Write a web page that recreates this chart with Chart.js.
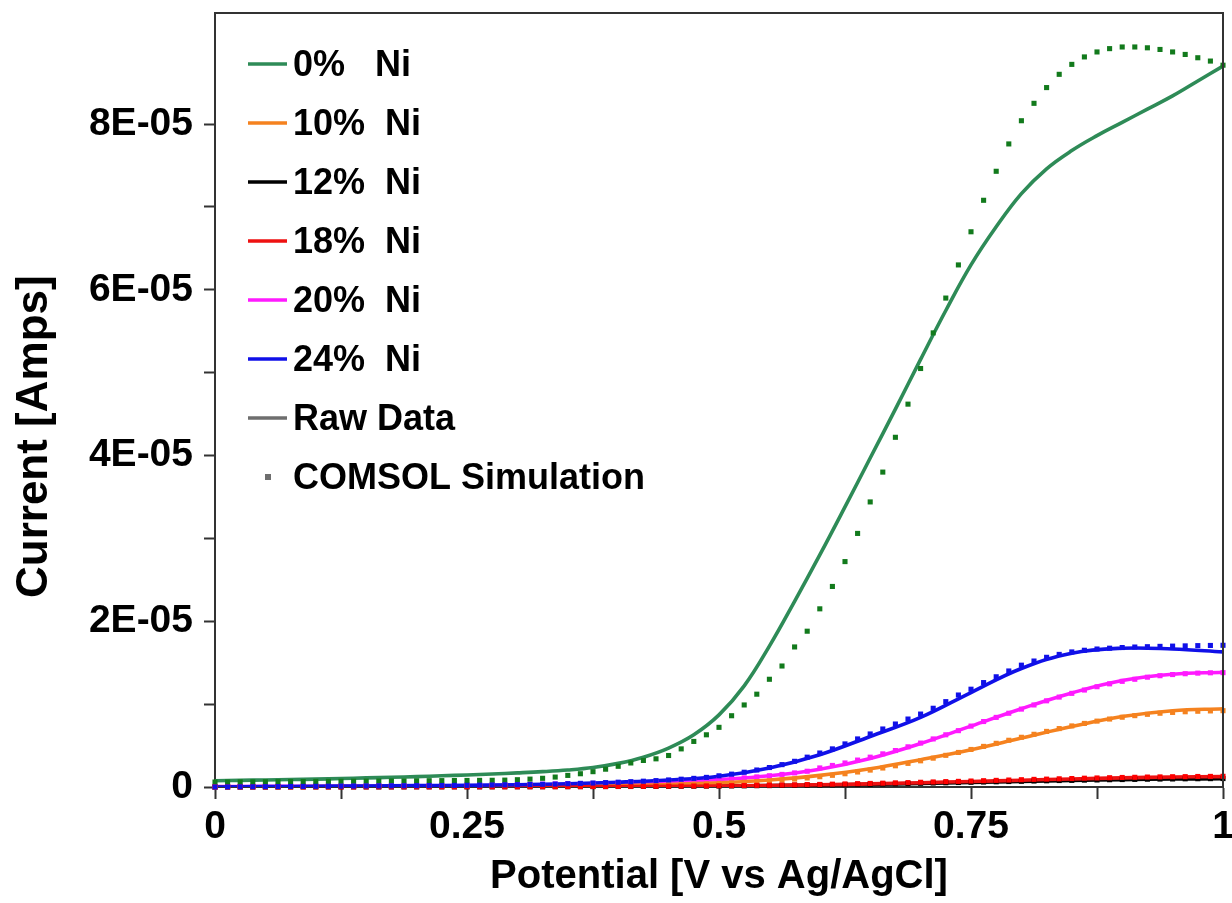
<!DOCTYPE html>
<html>
<head>
<meta charset="utf-8">
<script src="https://cdn.jsdelivr.net/npm/chart.js@4.4.1/dist/chart.umd.min.js"></script>
<style>
  html, body { margin: 0; padding: 0; background: #fff; }
  #wrap { width: 1232px; height: 903px; position: relative; }
</style>
</head>
<body>
<div id="wrap"><canvas id="ivChart"></canvas></div>
<script>
// current values are in units of 1E-05 A

const seriesLabels = ['0%   Ni', '10%  Ni', '12%  Ni', '18%  Ni', '20%  Ni', '24%  Ni'];

const potentialTicks = [0, 0.25, 0.5, 0.75, 1];
const potentialTickLabels = ['0', '0.25', '0.5', '0.75', '1'];
const currentTicks = [0, 2, 4, 6, 8];
const currentTickLabels = ['0', '2E-05', '4E-05', '6E-05', '8E-05'];

// raw data, measured curves
const raw0Potential = [0, 0.025, 0.05, 0.075, 0.1, 0.125, 0.15, 0.175, 0.2, 0.225,
    0.25, 0.275, 0.3, 0.325, 0.35, 0.375, 0.4, 0.425, 0.45, 0.475,
    0.5, 0.525, 0.55, 0.575, 0.6, 0.625, 0.65, 0.675, 0.7, 0.725,
    0.75, 0.775, 0.8, 0.825, 0.85, 0.875, 0.9, 0.925, 0.95, 0.975, 1];
const raw0 = [0.076, 0.08, 0.085, 0.09, 0.095, 0.102, 0.11, 0.117, 0.125, 0.135,
    0.145, 0.157, 0.17, 0.185, 0.205, 0.235, 0.285, 0.36, 0.47, 0.63,
    0.87, 1.22, 1.7, 2.24, 2.8, 3.38, 3.97, 4.56, 5.16, 5.75,
    6.3, 6.76, 7.16, 7.46, 7.68, 7.86, 8.02, 8.18, 8.34, 8.52, 8.7];

const rawPotential = [0, 0.05, 0.1, 0.15, 0.2, 0.25, 0.3, 0.35, 0.4, 0.45, 0.5,
    0.55, 0.6, 0.65, 0.7, 0.75, 0.8, 0.85, 0.9, 0.95, 1];
const raw10 = [0, 0.002, 0.004, 0.006, 0.008, 0.01, 0.012, 0.015, 0.02, 0.03, 0.05,
    0.085, 0.14, 0.22, 0.33, 0.45, 0.59, 0.73, 0.85, 0.92, 0.945];
const raw12 = [0, 0, 0.001, 0.001, 0.002, 0.002, 0.003, 0.004, 0.006, 0.008, 0.011,
    0.016, 0.023, 0.032, 0.043, 0.055, 0.067, 0.079, 0.089, 0.096, 0.1];
const raw18 = [0, 0, 0, 0.001, 0.001, 0.002, 0.002, 0.003, 0.005, 0.008, 0.012,
    0.018, 0.027, 0.038, 0.052, 0.067, 0.082, 0.097, 0.11, 0.12, 0.125];
const raw20 = [0.005, 0.007, 0.009, 0.011, 0.013, 0.015, 0.02, 0.03, 0.045, 0.06, 0.09,
    0.135, 0.215, 0.345, 0.525, 0.735, 0.945, 1.135, 1.285, 1.36, 1.385];
const raw24 = [0, 0.004, 0.008, 0.012, 0.016, 0.02, 0.028, 0.04, 0.058, 0.085, 0.13,
    0.23, 0.39, 0.61, 0.84, 1.14, 1.43, 1.615, 1.675, 1.665, 1.63];

// COMSOL simulation points
const simPotential = [0, 0.0125, 0.025, 0.0375, 0.05, 0.0625, 0.075, 0.0875, 0.1, 0.1125,
    0.125, 0.1375, 0.15, 0.1625, 0.175, 0.1875, 0.2, 0.2125, 0.225, 0.2375,
    0.25, 0.2625, 0.275, 0.2875, 0.3, 0.3125, 0.325, 0.3375, 0.35, 0.3625,
    0.375, 0.3875, 0.4, 0.4125, 0.425, 0.4375, 0.45, 0.4625, 0.475, 0.4875,
    0.5, 0.5125, 0.525, 0.5375, 0.55, 0.5625, 0.575, 0.5875, 0.6, 0.6125,
    0.625, 0.6375, 0.65, 0.6625, 0.675, 0.6875, 0.7, 0.7125, 0.725, 0.7375,
    0.75, 0.7625, 0.775, 0.7875, 0.8, 0.8125, 0.825, 0.8375, 0.85, 0.8625,
    0.875, 0.8875, 0.9, 0.9125, 0.925, 0.9375, 0.95, 0.9625, 0.975, 0.9875, 1];
const sim0 = [0.06, 0.06, 0.061, 0.062, 0.063, 0.064, 0.065, 0.066, 0.067, 0.068,
    0.069, 0.07, 0.071, 0.072, 0.073, 0.074, 0.075, 0.076, 0.077, 0.078,
    0.079, 0.08, 0.081, 0.083, 0.088, 0.095, 0.105, 0.12, 0.14, 0.16,
    0.185, 0.215, 0.25, 0.29, 0.32, 0.34, 0.38, 0.46, 0.55, 0.63,
    0.72, 0.86, 0.99, 1.12, 1.3, 1.46, 1.69, 1.88, 2.15, 2.42,
    2.72, 3.06, 3.44, 3.8, 4.22, 4.62, 5.05, 5.48, 5.9, 6.3,
    6.7, 7.08, 7.43, 7.76, 8.04, 8.25, 8.44, 8.6, 8.72, 8.81,
    8.87, 8.91, 8.93, 8.93, 8.92, 8.9, 8.87, 8.84, 8.8, 8.76, 8.71];
const sim10 = [0, 0.001, 0.001, 0.002, 0.002, 0.003, 0.003, 0.004, 0.004, 0.005,
    0.005, 0.006, 0.006, 0.007, 0.007, 0.008, 0.008, 0.009, 0.009, 0.01,
    0.01, 0.011, 0.011, 0.012, 0.012, 0.013, 0.014, 0.014, 0.015, 0.016,
    0.017, 0.018, 0.019, 0.021, 0.023, 0.025, 0.028, 0.031, 0.035, 0.039,
    0.044, 0.05, 0.057, 0.065, 0.074, 0.084, 0.096, 0.109, 0.124, 0.141,
    0.16, 0.181, 0.204, 0.229, 0.256, 0.285, 0.316, 0.348, 0.382, 0.417,
    0.453, 0.49, 0.527, 0.564, 0.6, 0.636, 0.671, 0.705, 0.737, 0.767,
    0.795, 0.82, 0.842, 0.861, 0.877, 0.89, 0.9, 0.908, 0.914, 0.918, 0.921];
const sim12 = [0, 0, 0, 0, 0, 0, 0.001, 0.001, 0.001, 0.001,
    0.001, 0.001, 0.001, 0.001, 0.001, 0.001, 0.002, 0.002, 0.002, 0.002,
    0.002, 0.002, 0.002, 0.003, 0.003, 0.003, 0.003, 0.004, 0.004, 0.004,
    0.005, 0.005, 0.006, 0.006, 0.007, 0.007, 0.008, 0.009, 0.01, 0.011,
    0.012, 0.013, 0.014, 0.016, 0.017, 0.019, 0.021, 0.023, 0.025, 0.027,
    0.029, 0.032, 0.034, 0.037, 0.039, 0.042, 0.045, 0.048, 0.051, 0.054,
    0.057, 0.06, 0.063, 0.066, 0.069, 0.072, 0.075, 0.078, 0.08, 0.083,
    0.085, 0.088, 0.09, 0.092, 0.094, 0.096, 0.097, 0.099, 0.1, 0.101, 0.102];
const sim18 = [0, 0, 0, 0, 0, 0.001, 0.001, 0.001, 0.001, 0.001,
    0.001, 0.001, 0.001, 0.002, 0.002, 0.002, 0.002, 0.002, 0.002, 0.002,
    0.003, 0.003, 0.003, 0.003, 0.003, 0.004, 0.004, 0.004, 0.005, 0.005,
    0.006, 0.006, 0.007, 0.008, 0.008, 0.009, 0.01, 0.011, 0.012, 0.013,
    0.015, 0.016, 0.018, 0.02, 0.022, 0.024, 0.026, 0.029, 0.031, 0.034,
    0.037, 0.04, 0.043, 0.046, 0.05, 0.053, 0.057, 0.061, 0.065, 0.068,
    0.072, 0.076, 0.08, 0.084, 0.088, 0.092, 0.095, 0.099, 0.102, 0.106,
    0.109, 0.112, 0.115, 0.117, 0.12, 0.122, 0.124, 0.125, 0.127, 0.128, 0.129];
const sim20 = [0.005, 0.006, 0.007, 0.008, 0.009, 0.01, 0.011, 0.012, 0.013, 0.014,
    0.015, 0.016, 0.017, 0.018, 0.019, 0.02, 0.021, 0.022, 0.023, 0.024,
    0.025, 0.026, 0.027, 0.028, 0.03, 0.032, 0.034, 0.036, 0.038, 0.04,
    0.043, 0.046, 0.049, 0.052, 0.056, 0.06, 0.065, 0.07, 0.076, 0.083,
    0.091, 0.1, 0.11, 0.122, 0.136, 0.152, 0.17, 0.19, 0.23, 0.26,
    0.29, 0.325, 0.36, 0.4, 0.44, 0.485, 0.53, 0.58, 0.63, 0.68,
    0.735, 0.79, 0.84, 0.89, 0.94, 0.99, 1.04, 1.085, 1.13, 1.17,
    1.21, 1.245, 1.275, 1.3, 1.325, 1.343, 1.357, 1.367, 1.374, 1.378, 1.38];
const sim24 = [0, 0.001, 0.002, 0.003, 0.004, 0.005, 0.006, 0.007, 0.008, 0.009,
    0.01, 0.011, 0.012, 0.013, 0.014, 0.015, 0.016, 0.017, 0.018, 0.019,
    0.02, 0.022, 0.024, 0.026, 0.028, 0.03, 0.033, 0.036, 0.04, 0.044,
    0.048, 0.053, 0.058, 0.064, 0.07, 0.077, 0.085, 0.094, 0.104, 0.116,
    0.135, 0.155, 0.178, 0.205, 0.235, 0.27, 0.31, 0.36, 0.41, 0.46,
    0.52, 0.58, 0.64, 0.7, 0.76, 0.82, 0.88, 0.95, 1.03, 1.11,
    1.18, 1.26, 1.33, 1.4, 1.47, 1.52, 1.565, 1.6, 1.63, 1.65,
    1.665, 1.675, 1.683, 1.689, 1.693, 1.697, 1.7, 1.703, 1.706, 1.708, 1.71];

const rawColors = ['#2e8b57', '#f5821f', '#000000', '#ee1111', '#ff1aff', '#1010e8'];
const simColors = ['#127a1c', '#f5821f', '#000000', '#ff0000', '#ff1aff', '#1010e8'];

const rawGrids = [raw0Potential, rawPotential, rawPotential, rawPotential, rawPotential, rawPotential];
const rawSeries = [raw0, raw10, raw12, raw18, raw20, raw24];
const simSeries = [sim0, sim10, sim12, sim18, sim20, sim24];

function toPoints(xs, ys) {
    return xs.map((x, i) => ({ x: x, y: ys[i] }));
}

// drawing order, higher number drawn first (underneath)
const layer = [8, 9, 11, 7, 10, 6];

let datasets = [];
for (let i = 0; i < rawSeries.length; i++) {
    datasets.push({
        label: seriesLabels[i] + ' raw',
        data: toPoints(rawGrids[i], rawSeries[i]),
        borderColor: rawColors[i],
        borderWidth: 3.6,
        pointRadius: 0,
        tension: 0.4,
        order: layer[i] + 10
    });
    datasets.push({
        label: seriesLabels[i] + ' sim',
        data: toPoints(simPotential, simSeries[i]),
        showLine: false,
        pointStyle: 'rect',
        pointRadius: 3.6,
        borderWidth: 0,
        backgroundColor: simColors[i],
        clip: false,
        order: layer[i]
    });
}

const tickFont = { family: 'Liberation Sans, Arial, sans-serif', size: 39, weight: 'bold' };

const framePlugin = {
    id: 'frame',
    afterDraw(chart) {
        const { ctx, chartArea: a } = chart;
        ctx.save();
        ctx.strokeStyle = '#333';
        ctx.lineWidth = 2;
        ctx.beginPath();
        ctx.moveTo(a.left, a.top);
        ctx.lineTo(a.right, a.top);
        ctx.lineTo(a.right, a.bottom);
        ctx.stroke();
        ctx.restore();
    }
};

const legendPlugin = {
    id: 'boxLegend',
    afterDraw(chart) {
        const { ctx, chartArea: a } = chart;
        const x0 = a.left + 33;
        const x1 = a.left + 72;
        const tx = a.left + 78;
        ctx.save();
        ctx.font = 'bold 36px "Liberation Sans", Arial, sans-serif';
        ctx.textBaseline = 'middle';
        ctx.fillStyle = '#000';
        let entries = seriesLabels.map((l, i) => ({ text: l, color: rawColors[i], kind: 'line' }));
        entries.push({ text: 'Raw Data', color: '#6e6e6e', kind: 'line' });
        entries.push({ text: 'COMSOL Simulation', color: '#6e6e6e', kind: 'rect' });
        entries.forEach((e, i) => {
            const y = a.top + 51 + 59 * i;
            if (e.kind === 'line') {
                ctx.strokeStyle = e.color;
                ctx.lineWidth = 3.6;
                ctx.beginPath();
                ctx.moveTo(x0, y);
                ctx.lineTo(x1, y);
                ctx.stroke();
            } else {
                ctx.fillStyle = e.color;
                ctx.fillRect(x0 + 17, y - 3, 6, 6);
            }
            ctx.fillStyle = '#000';
            ctx.fillText(e.text, tx, y + 2);
        });
        ctx.restore();
    }
};

function labelFor(value, ticks, labels) {
    for (let i = 0; i < ticks.length; i++) {
        if (Math.abs(ticks[i] - value) < 1e-6) return labels[i];
    }
    return '';
}

function onStep(v, step) {
    return Math.abs(v / step - Math.round(v / step)) < 1e-6;
}

const ctx = document.getElementById('ivChart').getContext('2d');
const myChart = new Chart(ctx, {
    type: 'line',
    data: { datasets: datasets },
    options: {
        responsive: true,
        maintainAspectRatio: false,
        animation: false,
        layout: { padding: { top: 13, right: 9, left: 0, bottom: 0 } },
        plugins: {
            legend: { display: false },
            tooltip: { enabled: false }
        },
        scales: {
            x: {
                type: 'linear',
                min: 0,
                max: 1,
                grid: { drawOnChartArea: false, tickLength: 12, tickColor: '#333', tickWidth: 2 },
                border: { color: '#333', width: 2 },
                ticks: {
                    stepSize: 0.125,
                    autoSkip: false,
                    maxRotation: 0,
                    padding: 5,
                    color: '#000',
                    font: tickFont,
                    callback: (v) => labelFor(v, potentialTicks, potentialTickLabels)
                },
                title: {
                    display: true,
                    text: 'Potential [V vs Ag/AgCl]',
                    color: '#000',
                    font: { family: 'Liberation Sans, Arial, sans-serif', size: 40, weight: 'bold', lineHeight: 1 },
                    padding: { top: 0, bottom: 6 }
                },
                afterFit(scale) {
                    scale.height = 116;
                    scale.paddingLeft = 0;
                    scale.paddingRight = 0;
                }
            },
            y: {
                type: 'linear',
                min: 0,
                max: 9.34,
                grid: {
                    drawOnChartArea: false,
                    tickLength: 11,
                    tickWidth: 2,
                    tickColor: (c) => onStep(c.tick.value, 1) ? '#333' : 'rgba(0,0,0,0)'
                },
                border: { color: '#333', width: 2 },
                ticks: {
                    stepSize: 1,
                    autoSkip: false,
                    padding: 11,
                    color: '#000',
                    font: tickFont,
                    callback: (v) => labelFor(v, currentTicks, currentTickLabels)
                },
                title: {
                    display: true,
                    text: 'Current [Amps]      ',
                    color: '#000',
                    font: { family: 'Liberation Sans Narrow, Liberation Sans, Arial, sans-serif', size: 44, weight: 'bold', lineHeight: 1 },
                    padding: { top: 13, bottom: 0 }
                },
                afterFit(scale) {
                    scale.width = 215;
                    scale.paddingTop = 0;
                    scale.paddingBottom = 0;
                }
            }
        }
    },
    plugins: [framePlugin, legendPlugin]
});
</script>
</body>
</html>
